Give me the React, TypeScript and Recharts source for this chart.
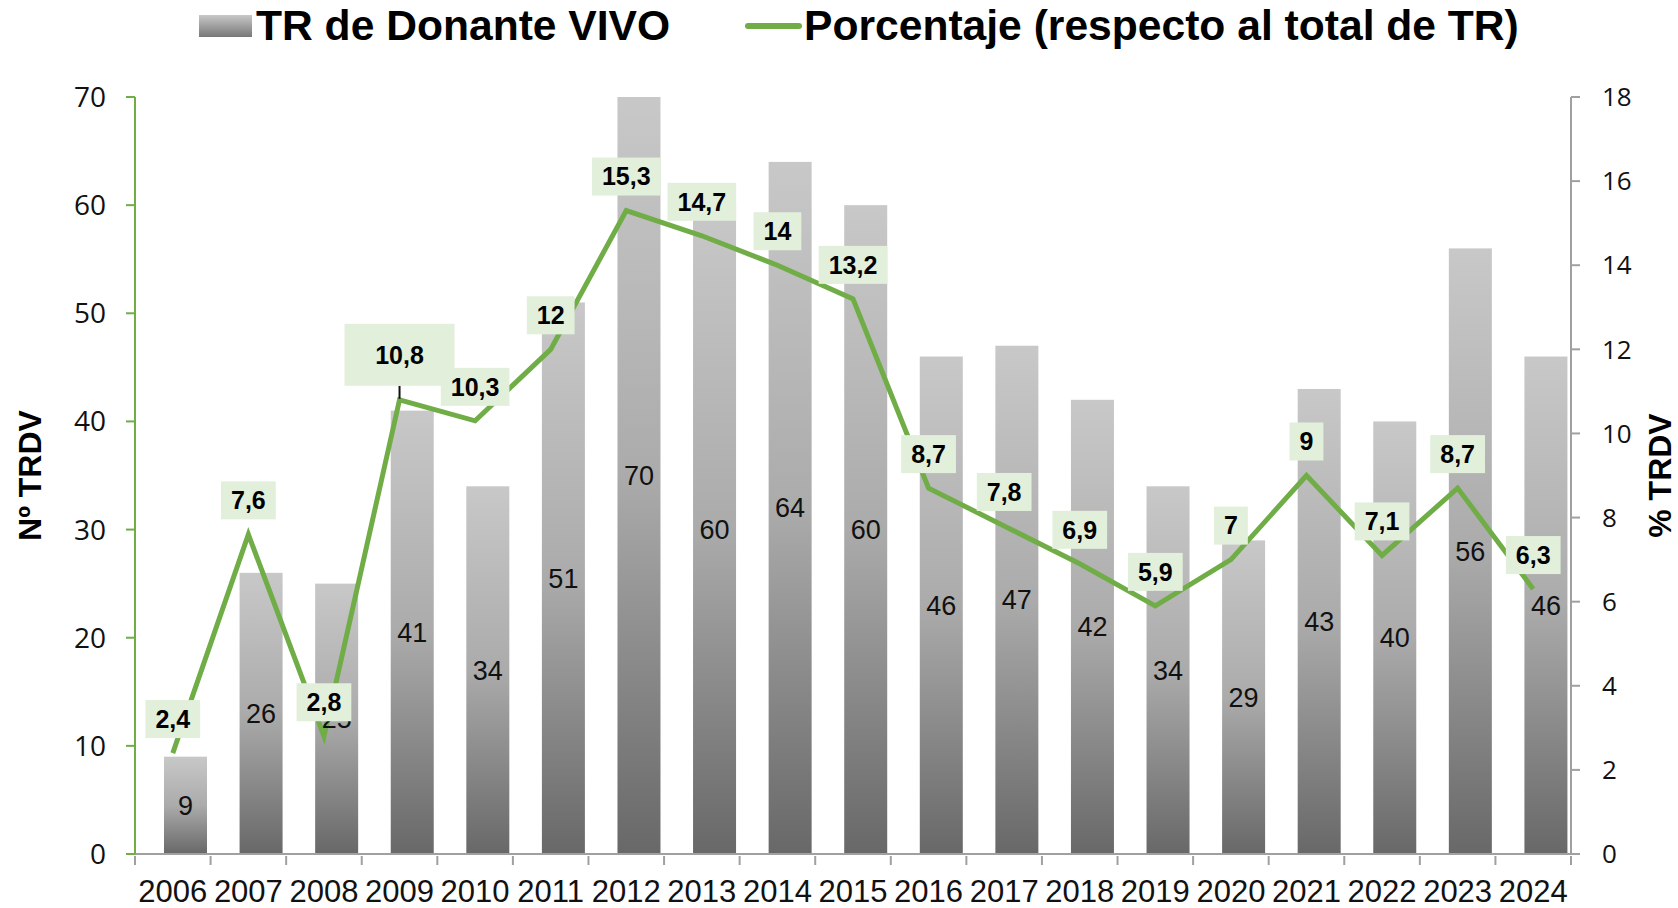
import React from 'react';
import { ComposedChart, Bar, Line, XAxis, YAxis, LabelList } from 'recharts';

const years = ['2006', '2007', '2008', '2009', '2010', '2011', '2012', '2013', '2014', '2015', '2016', '2017', '2018', '2019', '2020', '2021', '2022', '2023', '2024'];
const trdv = [9, 26, 25, 41, 34, 51, 70, 60, 64, 60, 46, 47, 42, 34, 29, 43, 40, 56, 46];
const pct = [2.4, 7.6, 2.8, 10.8, 10.3, 12, 15.3, 14.7, 14, 13.2, 8.7, 7.8, 6.9, 5.9, 7, 9, 7.1, 8.7, 6.3];
const leftTicks = [0, 10, 20, 30, 40, 50, 60, 70];
const rightTicks = [0, 2, 4, 6, 8, 10, 12, 14, 16, 18];

const data = years.map((y, i) => ({ year: y, n: trdv[i], pct: pct[i] }));

const W = 1678;
const H = 908;
const LEFT_W = 135;
const RIGHT_W = 107;
const GREEN = '#70AD47';
const BAND = (W - LEFT_W - RIGHT_W) / years.length;
// bars sit a bit right of the category centre in the original
const BAR_SHIFT = 13;
const ARIAL = '"Liberation Sans", Arial, sans-serif';
const OPEN = '"Open Sans", sans-serif';

const fmt = (v: number) => String(v).replace('.', ',');

const textW = (s: string, size: number) =>
  s.split('').reduce((w, c) => w + (c === ',' ? 0.278 : 0.556), 0) * size;

const XTick = (props: any) => {
  const { x, y, payload, index, visibleTicksCount } = props;
  const bx = x - BAND / 2;
  return (
    <g>
      <line x1={bx} y1={y} x2={bx} y2={y + 9} stroke="#A0A0A0" strokeWidth={2} />
      {index === visibleTicksCount - 1 && (
        <line x1={x + BAND / 2} y1={y} x2={x + BAND / 2} y2={y + 9} stroke="#A0A0A0" strokeWidth={2} />
      )}
      <text x={x} y={y + 46} textAnchor="middle" fontFamily={ARIAL} fontSize={31} fill="#111">
        {payload.value}
      </text>
    </g>
  );
};

const BarShape = (props: any) => {
  const { x, y, width, height } = props;
  if (!height) return null;
  return <rect x={x + BAR_SHIFT} y={y} width={width} height={height} fill="url(#barGrad)" />;
};

const BarLabel = (props: any) => {
  const { x, y, width, height, value } = props;
  return (
    <text
      x={x + width / 2 + BAR_SHIFT}
      y={y + height / 2}
      dy="0.35em"
      textAnchor="middle"
      fontFamily={ARIAL}
      fontSize={27}
      fill="#111"
    >
      {value}
    </text>
  );
};

const PctLabel = (props: any) => {
  const { x, y, value, index } = props;
  const s = fmt(value);
  const fs = 25;
  if (index === 3) {
    // this one was moved up by hand in the original, with a leader line
    const cy = y - 45;
    return (
      <g>
        <line x1={x} y1={cy + 31} x2={x} y2={y - 1} stroke="#111" strokeWidth={2} />
        <rect x={x - 55} y={cy - 31} width={110} height={62} fill="#E2EFDA" />
        <text x={x} y={cy} dy="0.35em" textAnchor="middle" fontFamily={ARIAL} fontWeight="bold" fontSize={fs} fill="#000">
          {s}
        </text>
      </g>
    );
  }
  const bw = textW(s, fs) + 20;
  const cy = y - 34;
  return (
    <g>
      <rect x={x - bw / 2} y={cy - 19} width={bw} height={38} fill="#E2EFDA" />
      <text x={x} y={cy} dy="0.35em" textAnchor="middle" fontFamily={ARIAL} fontWeight="bold" fontSize={fs} fill="#000">
        {s}
      </text>
    </g>
  );
};

const axisTitle = (txt: string, cx: number) => (props: any) => {
  const vb = props.viewBox;
  const cy = vb.y + vb.height / 2;
  return (
    <text
      x={cx}
      y={cy}
      dy="0.35em"
      textAnchor="middle"
      transform={`rotate(-90, ${cx}, ${cy})`}
      fontFamily={ARIAL}
      fontWeight="bold"
      fontSize={32}
      fill="#000"
    >
      {txt}
    </text>
  );
};

const Legend = () => (
  <svg width={W} height={60} style={{ position: 'absolute', left: 0, top: 0 }}>
    <defs>
      <linearGradient id="legGrad" x1="0" y1="0" x2="0" y2="1">
        <stop offset="0%" stopColor="#C8C8C8" />
        <stop offset="100%" stopColor="#777777" />
      </linearGradient>
    </defs>
    <rect x={199} y={15} width={53} height={22} fill="url(#legGrad)" />
    <text x={256} y={40} fontFamily={ARIAL} fontWeight="bold" fontSize={42.6} fill="#000">
      TR de Donante VIVO
    </text>
    <line x1={748} y1={26} x2={799} y2={26} stroke={GREEN} strokeWidth={6} strokeLinecap="round" />
    <text x={804} y={40} fontFamily={ARIAL} fontWeight="bold" fontSize={42.6} fill="#000">
      Porcentaje (respecto al total de TR)
    </text>
  </svg>
);

export default function App() {
  return (
    <div style={{ position: 'absolute', left: 0, top: 0, width: W, height: H, background: '#fff' }}>
      <ComposedChart width={W} height={H} data={data} margin={{ top: 97, right: 0, bottom: 0, left: 0 }}>
        <defs>
          <linearGradient id="barGrad" x1="0" y1="0" x2="0" y2="1">
            <stop offset="0%" stopColor="#C8C8C8" />
            <stop offset="50%" stopColor="#ABABAB" />
            <stop offset="100%" stopColor="#686868" />
          </linearGradient>
        </defs>
        <XAxis
          dataKey="year"
          height={54}
          interval={0}
          tickSize={0}
          tickLine={false}
          axisLine={{ stroke: '#A0A0A0', strokeWidth: 2 }}
          tick={<XTick />}
        />
        <YAxis
          yAxisId="left"
          width={LEFT_W}
          domain={[0, 70]}
          ticks={leftTicks}
          interval={0}
          tickSize={9}
          tickMargin={20}
          axisLine={{ stroke: GREEN, strokeWidth: 2 }}
          tickLine={{ stroke: GREEN, strokeWidth: 2 }}
          tick={{ fontFamily: OPEN, fontSize: 28, fill: '#111' }}
          label={{ content: axisTitle('Nº TRDV', 30) }}
        />
        <YAxis
          yAxisId="right"
          orientation="right"
          width={RIGHT_W}
          domain={[0, 18]}
          ticks={rightTicks}
          interval={0}
          tickSize={9}
          tickMargin={22}
          axisLine={{ stroke: '#A0A0A0', strokeWidth: 2 }}
          tickLine={{ stroke: '#A0A0A0', strokeWidth: 2 }}
          tick={{ fontFamily: OPEN, fontSize: 26, fill: '#111', textAnchor: 'start' }}
          label={{ content: axisTitle('% TRDV', 1660) }}
        />
        <Bar yAxisId="left" dataKey="n" fill="url(#barGrad)" barSize={43} shape={<BarShape />} isAnimationActive={false}>
          <LabelList dataKey="n" content={<BarLabel />} />
        </Bar>
        <Line
          yAxisId="right"
          dataKey="pct"
          type="linear"
          stroke={GREEN}
          strokeWidth={5}
          dot={false}
          activeDot={false}
          isAnimationActive={false}
        >
          <LabelList dataKey="pct" content={<PctLabel />} />
        </Line>
      </ComposedChart>
      <Legend />
    </div>
  );
}
